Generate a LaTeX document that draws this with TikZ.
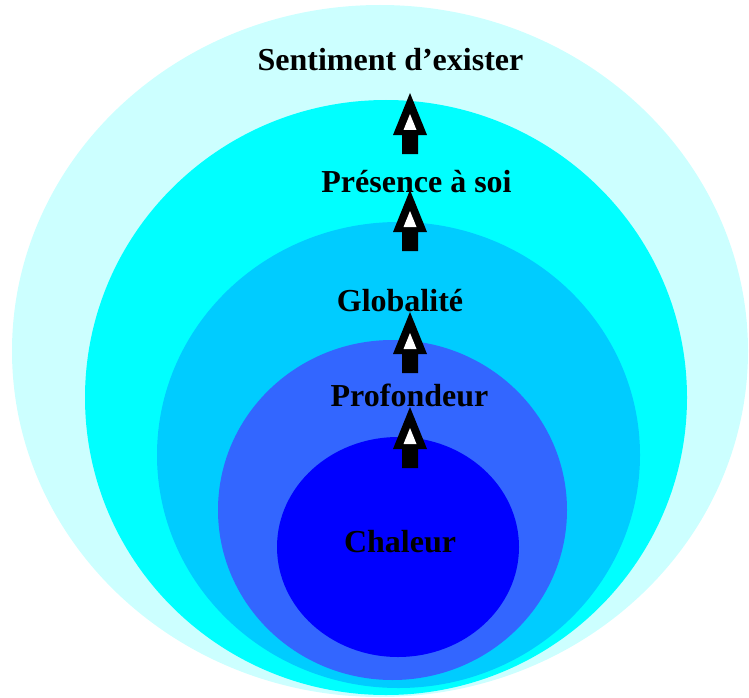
\documentclass[tikz,border=0pt]{standalone}
\usepackage{fontspec}
\setmainfont{Liberation Serif}
\definecolor{paleCyan}{HTML}{CCFFFF}
\definecolor{fullCyan}{HTML}{00FFFF}
\definecolor{skyBlue}{HTML}{00CCFF}
\definecolor{midBlue}{HTML}{3366FF}
\definecolor{deepBlue}{HTML}{0000FF}
\tikzset{
    label/.style={anchor=base, inner sep=0pt, font=\fontsize{32}{38}\selectfont\bfseries},
}
\begin{document}
\begin{tikzpicture}[x=1pt, y=-1pt]
        \useasboundingbox (0, 0) rectangle (749, 698);
        \fill[paleCyan] (380, 351) ellipse [x radius=368, y radius=346];
        \fill[fullCyan] (386, 397.5) ellipse [x radius=301, y radius=297.5];
        \fill[skyBlue] (398.5, 455) ellipse [x radius=241.5, y radius=233];
        \fill[midBlue] (392.5, 510) ellipse [x radius=174.5, y radius=170];
        \fill[deepBlue] (398, 547) ellipse [x radius=121, y radius=110];
        \node[label] (exister) at (390.5, 71) {Sentiment d’exister};
        \node[label] (presence) at (416.5, 192) {Présence à soi};
        \node[label] (globalite) at (400, 311) {Globalité};
        \node[label] (profondeur) at (409.5, 406) {Profondeur};
        \node[label] (chaleur) at (400, 552) {Chaleur};
        \foreach \t in {93, 190, 312, 407} {
            \fill[black] (410, \t) -- (427, \t+42) -- (418, \t+42) -- (418, \t+61)
                -- (402, \t+61) -- (402, \t+42) -- (393, \t+42) -- cycle;
            \fill[white] (410, \t+21) -- (416.5, \t+37) -- (403.5, \t+37) -- cycle;
        }
    \end{tikzpicture}
\end{document}
